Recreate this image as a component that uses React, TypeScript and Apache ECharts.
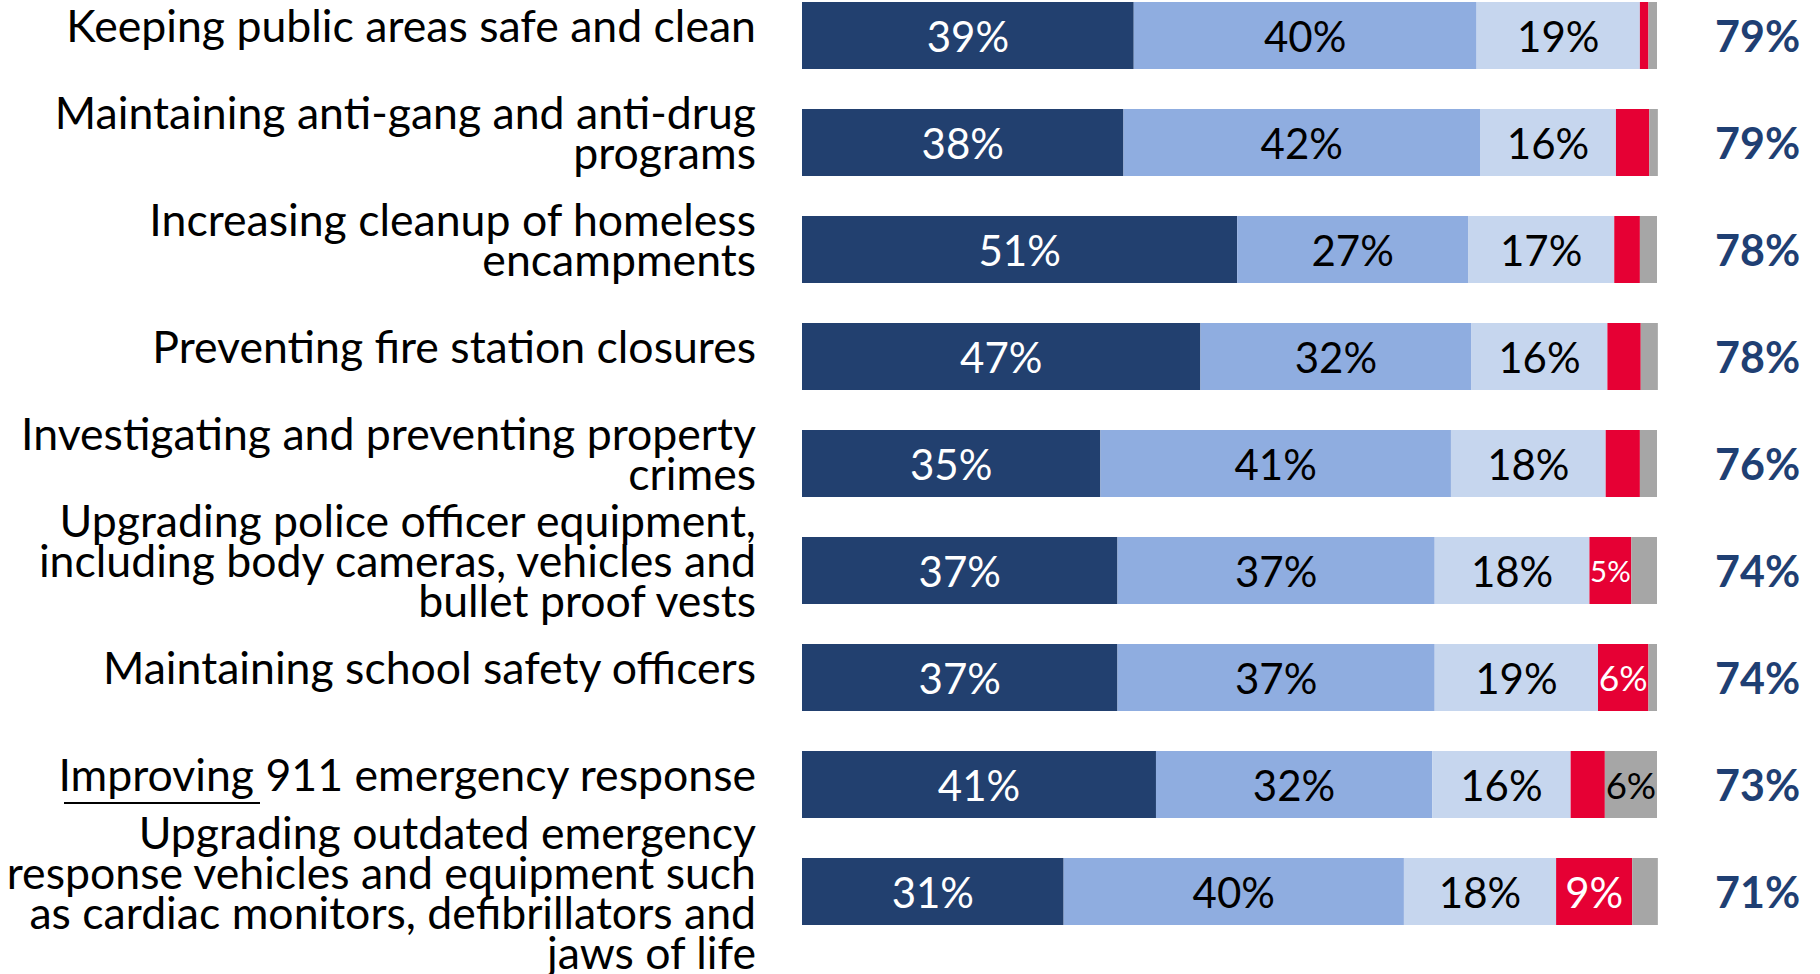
import React, { useEffect, useRef } from 'react';
import * as echarts from 'echarts';

const categories = [
  'Keeping public areas safe and clean',
  'Maintaining anti-gang and anti-drug\nprograms',
  'Increasing cleanup of homeless\nencampments',
  'Preventing fire station closures',
  'Investigating and preventing property\ncrimes',
  'Upgrading police officer equipment,\nincluding body cameras, vehicles and\nbullet proof vests',
  'Maintaining school safety officers',
  'Improving 911 emergency response',
  'Upgrading outdated emergency\nresponse vehicles and equipment such\nas cardiac monitors, defibrillators and\njaws of life',
];
const veryImportant = [38.8, 37.6, 50.9, 46.6, 34.9, 36.9, 36.9, 41.4, 30.6];
const somewhatImportant = [40.1, 41.7, 27.0, 31.7, 41.0, 37.1, 37.1, 32.3, 39.8];
const notTooImportant = [19.1, 15.9, 17.1, 15.9, 18.1, 18.1, 19.1, 16.2, 17.8];
const notImportant = [1.0, 3.9, 3.0, 3.9, 4.0, 4.9, 5.9, 4.0, 8.9];
const dontKnow = [1.0, 1.0, 2.0, 2.0, 2.0, 3.0, 1.0, 6.1, 3.0];
const totals = [79, 79, 78, 78, 76, 74, 74, 73, 71];

const seriesDefs = [
  { name: 'Very important', data: veryImportant, color: '#22406F', text: '#ffffff' },
  { name: 'Somewhat important', data: somewhatImportant, color: '#8FADE0', text: '#000000' },
  { name: 'Not too important', data: notTooImportant, color: '#C6D6EE', text: '#000000' },
  { name: 'Not important', data: notImportant, color: '#E60034', text: '#ffffff' },
  { name: "Don't know", data: dontKnow, color: '#A6A6A6', text: '#000000' },
];

const FONT = 'Lato';

export default function App() {
  const ref = useRef<HTMLDivElement>(null);
  useEffect(() => {
    if (!ref.current) return;
    const chart = echarts.init(ref.current, undefined, { renderer: 'svg' });
    const lastIndex = categories.length - 1;
    const option: any = {
      animation: false,
      backgroundColor: '#ffffff',
      grid: { left: 802, right: 163, top: 35.5, height: 856, containLabel: false },
      xAxis: { type: 'value', min: 0, max: 100, show: false },
      yAxis: [
        {
          type: 'category',
          data: categories,
          inverse: true,
          boundaryGap: false,
          axisLine: { show: false },
          axisTick: { show: false },
          splitLine: { show: false },
          axisLabel: {
            interval: 0,
            hideOverlap: false,
            margin: 46,
            fontFamily: FONT,
            fontSize: 44.6,
            lineHeight: 40,
            color: '#000000',
            align: 'right',
            formatter: (v: string, i: number) =>
              i === lastIndex ? v : v + '\n{t| }',
            rich: {
              t: { fontSize: 1, lineHeight: 22 },
            },
          },
        },
        {
          type: 'category',
          data: categories,
          inverse: true,
          boundaryGap: false,
          position: 'right',
          axisLine: { show: false },
          axisTick: { show: false },
          splitLine: { show: false },
          axisLabel: {
            interval: 0,
            margin: 58,
            fontFamily: FONT,
            fontSize: 43,
            fontWeight: 'bold',
            color: '#1F3F73',
            align: 'left',
            formatter: (_v: string, i: number) => totals[i] + '%',
          },
        },
      ],
      series: seriesDefs.map((s) => ({
        name: s.name,
        type: 'bar',
        stack: 'total',
        yAxisIndex: 0,
        barWidth: 67,
        clip: false,
        itemStyle: { color: s.color },
        data: s.data.map((v) => ({
          value: v,
          label: {
            show: v >= 4.5,
            position: 'inside',
            color: s.text,
            fontFamily: FONT,
            fontSize: Math.min(42, v * 6),
            formatter: Math.round(v) + '%',
          },
        })),
      })),
      graphic: [
        {
          type: 'line',
          shape: { x1: 64, y1: 803, x2: 260, y2: 803 },
          style: { stroke: '#000000', lineWidth: 2 },
        },
      ],
    };
    chart.setOption(option);
    return () => chart.dispose();
  }, []);
  return (
    <div
      ref={ref}
      style={{ position: 'fixed', left: 0, top: 0, width: 1820, height: 974 }}
    />
  );
}
